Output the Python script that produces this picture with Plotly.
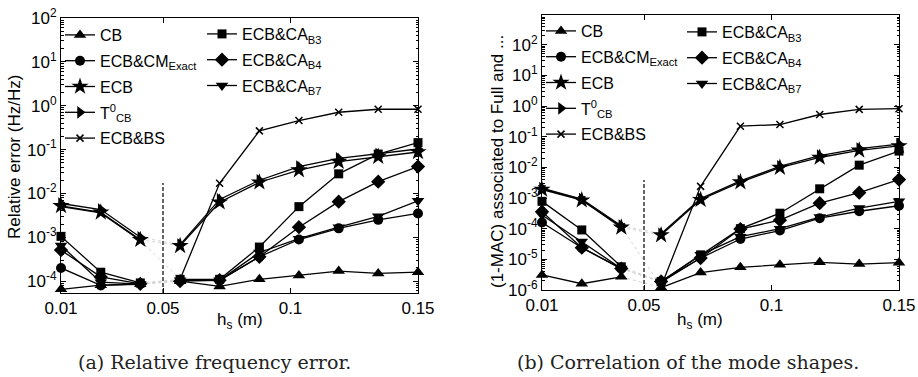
import plotly.graph_objects as go

# ---------------- data ----------------
hs = [0.0100, 0.0256, 0.0411, 0.0567, 0.0722, 0.0878, 0.1033, 0.1189, 0.1344, 0.1500]
split_at = 3  # gap between the two groups of element sizes

series_names = ["CB", "ECB&amp;CM<sub>Exact</sub>", "ECB", "T<sup>0</sup><sub>CB</sub>", "ECB&amp;BS",
                "ECB&amp;CA<sub>B3</sub>", "ECB&amp;CA<sub>B4</sub>", "ECB&amp;CA<sub>B7</sub>"]

# (a) relative frequency error
freq_cb  = [6.5e-5, 8.1e-5, 8.5e-5, 1.0e-4, 7.6e-5, 1.1e-4, 1.35e-4, 1.7e-4, 1.5e-4, 1.6e-4]
freq_cm  = [2.0e-4, 8.0e-5, 8.7e-5, 1.05e-4, 1.05e-4, 3.6e-4, 8.9e-4, 1.6e-3, 2.5e-3, 3.5e-3]
freq_ecb = [5.2e-3, 3.7e-3, 8.8e-4, 6.4e-4, 6.3e-3, 0.018, 0.034, 0.053, 0.069, 0.088]
freq_t0  = [5.9e-3, 4.3e-3, 1.0e-3, 6.8e-4, 7.3e-3, 0.020, 0.041, 0.063, 0.079, 0.103]
freq_bs  = [5.0e-3, 3.6e-3, 8.5e-4, 1.1e-4, 0.017, 0.267, 0.46, 0.71, 0.83, 0.83]
freq_b3  = [1.05e-3, 1.6e-4, 9.1e-5, 1.1e-4, 1.1e-4, 6.0e-4, 5.0e-3, 0.028, 0.079, 0.144]
freq_b4  = [5.1e-4, 1.25e-4, 8.7e-5, 1.0e-4, 1.05e-4, 3.6e-4, 1.7e-3, 6.5e-3, 0.0185, 0.041]
freq_b7  = [6.5e-4, 9.5e-5, 8.6e-5, 1.05e-4, 1.05e-4, 4.5e-4, 9.3e-4, 1.7e-3, 3.0e-3, 6.8e-3]

# (b) 1-MAC
mac_cb  = [3.1e-6, 1.6e-6, 2.7e-6, 1.2e-6, 3.7e-6, 5.5e-6, 6.6e-6, 8.0e-6, 7.0e-6, 7.8e-6]
mac_cm  = [1.6e-4, 2.4e-5, 5.0e-6, 1.8e-6, 1.1e-5, 4.6e-5, 8.7e-5, 2.2e-4, 3.7e-4, 5.6e-4]
mac_ecb = [1.9e-3, 8.5e-4, 1.1e-4, 6.2e-5, 8.8e-4, 3.3e-3, 9.8e-3, 0.021, 0.036, 0.050]
mac_t0  = [2.1e-3, 9.3e-4, 1.25e-4, 6.8e-5, 9.6e-4, 3.6e-3, 0.0108, 0.024, 0.041, 0.057]
mac_bs  = [2.0e-3, 8.8e-4, 1.15e-4, 1.3e-6, 2.4e-3, 0.22, 0.25, 0.53, 0.78, 0.82]
mac_b3  = [7.8e-4, 9.1e-5, 5.7e-6, 1.9e-6, 1.4e-5, 1.0e-4, 3.2e-4, 2.0e-3, 0.0118, 0.034]
mac_b4  = [3.6e-4, 2.4e-5, 5.0e-6, 1.9e-6, 1.1e-5, 9.7e-5, 1.9e-4, 6.8e-4, 1.5e-3, 4.0e-3]
mac_b7  = [2.8e-4, 3.8e-5, 5.0e-6, 1.9e-6, 1.4e-5, 5.5e-5, 1.0e-4, 2.4e-4, 4.7e-4, 7.8e-4]

freq_series = [freq_cb, freq_cm, freq_ecb, freq_t0, freq_bs, freq_b3, freq_b4, freq_b7]
mac_series = [mac_cb, mac_cm, mac_ecb, mac_t0, mac_bs, mac_b3, mac_b4, mac_b7]

divider_x = 0.05

x_ticks = [0.01, 0.05, 0.1, 0.15]
x_ticktext = ["0.01", "0.05", "0.1", "0.15"]
y_exp_a = [-4, -3, -2, -1, 0, 1, 2]
y_exp_b = [-6, -5, -4, -3, -2, -1, 0, 1, 2]

# ---------------- styles ----------------
symbols = ["triangle-up", "circle", "star", "triangle-right", "x-thin", "square", "diamond", "triangle-down"]
sizes = [11, 10, 13, 11, 7, 9, 11, 11]
FONT = "Liberation Sans, Arial, sans-serif"
SERIF = "DejaVu Serif, serif"

fig = go.Figure()

panels = [("x", "y", freq_series, ["legend", "legend2"]),
          ("x2", "y2", mac_series, ["legend3", "legend4"])]

for xa, ya, data, legs in panels:
    # faint connectors across the gap
    for vals in data:
        fig.add_trace(go.Scatter(
            x=[hs[split_at - 1], hs[split_at]], y=[vals[split_at - 1], vals[split_at]],
            mode="lines", line=dict(color="#d5d5d5", width=1, dash="dot"),
            xaxis=xa, yaxis=ya, showlegend=False, hoverinfo="skip"))
    for i, vals in enumerate(data):
        xs = hs[:split_at] + [None] + hs[split_at:]
        ys = vals[:split_at] + [None] + vals[split_at:]
        is_x = symbols[i] == "x-thin"
        fig.add_trace(go.Scatter(
            x=xs, y=ys, mode="lines+markers", name=series_names[i],
            line=dict(color="black", width=1.3),
            marker=dict(symbol=symbols[i], size=sizes[i], color="black",
                        line=dict(color="black", width=1.5 if is_x else 0)),
            xaxis=xa, yaxis=ya, cliponaxis=False, connectgaps=False,
            legend=legs[0] if i < 5 else legs[1],
            legendgroup=f"{xa}{i}"))

# dashed divider
for xa, ya in [("x", "y"), ("x2", "y2")]:
    fig.add_shape(type="line", xref=xa, yref=f"{ya} domain", x0=divider_x, x1=divider_x,
                  y0=0, y1=0.4, line=dict(color="black", width=1.2, dash="4px,2px"))


def minor_vals(lo, hi):
    out = []
    for e in range(lo, hi + 1):
        for m in range(2, 10):
            out.append(m * 10 ** e)
    return out


def xaxis_cfg(domain, anchor):
    return dict(domain=domain, anchor=anchor, range=[0.01, 0.15], tickvals=x_ticks, ticktext=x_ticktext,
                ticks="inside", ticklen=5, tickcolor="black", showline=True, linecolor="black",
                linewidth=1, mirror="allticks", showgrid=False, zeroline=False, automargin=False,
                tickfont=dict(family=FONT, size=17, color="black"))


def yaxis_cfg(domain, anchor, exps, rng):
    return dict(domain=domain, anchor=anchor, type="log", range=rng,
                tickvals=[10 ** e for e in exps],
                ticktext=[f"10<sup>{e}</sup>" for e in exps],
                ticks="inside", ticklen=5, tickcolor="black", showline=True, linecolor="black",
                linewidth=1, mirror="allticks", showgrid=False, zeroline=False, automargin=False,
                minor=dict(ticks="inside", ticklen=2.5, tickcolor="black",
                           tickvals=minor_vals(exps[0] - 1, exps[-1])),
                tickfont=dict(family=FONT, size=17, color="black"))


fig.update_layout(
    width=918, height=377, autosize=False,
    margin=dict(l=0, r=0, t=0, b=0, pad=0),
    paper_bgcolor="white", plot_bgcolor="white",
    font=dict(family=FONT, color="black"),
    xaxis=xaxis_cfg([61 / 918, 418 / 918], "y"),
    yaxis=yaxis_cfg([1 - 293 / 377, 1 - 18 / 377], "x", y_exp_a, [-4.27, 2]),
    xaxis2=xaxis_cfg([542 / 918, 899 / 918], "y2"),
    yaxis2=yaxis_cfg([1 - 290 / 377, 1 - 15 / 377], "x2", y_exp_b, [-6, 2.97]),
)

leg_common = dict(bgcolor="rgba(0,0,0,0)", font=dict(family=FONT, size=16, color="black"),
                  xanchor="left", yanchor="top", itemwidth=30, traceorder="grouped",
                  tracegroupgap=2, itemclick=False)
fig.update_layout(
    legend=dict(x=60 / 918, y=1 - 18 / 377, **leg_common),
    legend2=dict(x=202 / 918, y=1 - 17 / 377, **leg_common),
    legend3=dict(x=541 / 918, y=1 - 14 / 377, **leg_common),
    legend4=dict(x=682 / 918, y=1 - 15 / 377, **leg_common),
)


def note(text, xpx, ypx, font, angle=0):
    fig.add_annotation(text=text, x=xpx / 918, y=1 - ypx / 377, xref="paper", yref="paper",
                       xanchor="center", yanchor="middle", showarrow=False, textangle=angle, font=font)


axis_font = dict(family=FONT, size=17, color="black")
note("h<sub>s</sub> (m)", 240, 321, axis_font)
note("h<sub>s</sub> (m)", 700, 321, axis_font)
note("Relative error (Hz/Hz)", 14, 157, axis_font, -90)
note("(1-MAC) associated to Full and ...", 497, 162, axis_font, -90)
cap_font = dict(family=SERIF, size=19, color="#222")
note("(a) Relative frequency error.", 214, 362, cap_font)
note("(b) Correlation of the mode shapes.", 688, 362, cap_font)

fig.write_html("out.html")
